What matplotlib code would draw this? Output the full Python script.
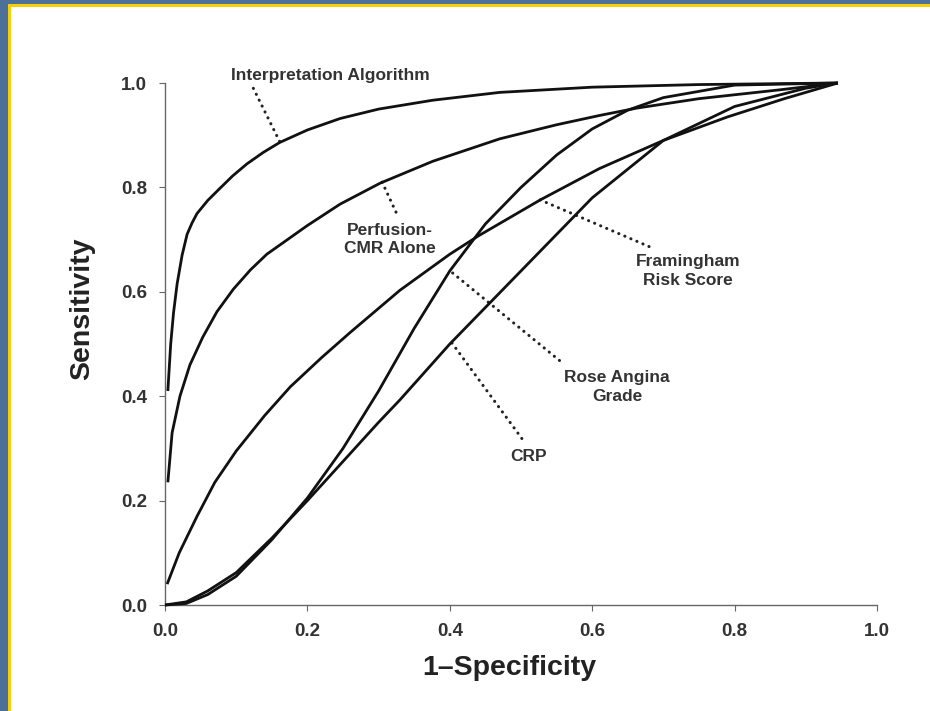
import matplotlib
matplotlib.use("Agg")
import matplotlib.pyplot as plt
from matplotlib.patches import Rectangle

plt.rcParams['font.family'] = ['Liberation Sans', 'DejaVu Sans']

# ROC curves: (1 - specificity, sensitivity)
interp_x = [0.004, 0.008, 0.012, 0.017, 0.024, 0.031, 0.038, 0.045, 0.06, 0.077, 0.095,
            0.115, 0.138, 0.161, 0.2, 0.246, 0.3, 0.376, 0.47, 0.6, 0.75, 0.945]
interp_y = [0.41, 0.50, 0.56, 0.615, 0.67, 0.71, 0.732, 0.75, 0.775, 0.798, 0.822,
            0.845, 0.867, 0.886, 0.91, 0.932, 0.95, 0.967, 0.982, 0.992, 0.997, 1.0]

perf_x = [0.004, 0.01, 0.021, 0.035, 0.053, 0.073, 0.096, 0.12, 0.143, 0.2, 0.246,
          0.302, 0.376, 0.47, 0.55, 0.611, 0.663, 0.75, 0.864, 0.945]
perf_y = [0.235, 0.33, 0.40, 0.46, 0.513, 0.562, 0.605, 0.642, 0.672, 0.727, 0.768,
          0.808, 0.850, 0.893, 0.92, 0.938, 0.952, 0.97, 0.987, 1.0]

fram_x = [0.003, 0.02, 0.045, 0.07, 0.1, 0.14, 0.176, 0.22, 0.26, 0.33, 0.40, 0.44,
          0.527, 0.61, 0.70, 0.79, 0.87, 0.945]
fram_y = [0.04, 0.10, 0.17, 0.235, 0.295, 0.363, 0.418, 0.474, 0.522, 0.603, 0.672, 0.707,
          0.776, 0.836, 0.89, 0.935, 0.97, 1.0]

rose_x = [0.0, 0.03, 0.06, 0.1, 0.15, 0.2, 0.25, 0.3, 0.35, 0.4, 0.45, 0.5,
          0.55, 0.6, 0.65, 0.7, 0.8, 0.945]
rose_y = [0.0, 0.003, 0.02, 0.055, 0.125, 0.205, 0.30, 0.41, 0.53, 0.64, 0.73, 0.80,
          0.862, 0.912, 0.948, 0.972, 0.996, 1.0]

crp_x = [0.0, 0.03, 0.06, 0.1, 0.15, 0.2, 0.25, 0.3, 0.33, 0.4, 0.5, 0.6, 0.7,
         0.8, 0.9, 0.945]
crp_y = [0.0, 0.006, 0.027, 0.062, 0.128, 0.20, 0.275, 0.35, 0.393, 0.50, 0.64, 0.78,
         0.89, 0.955, 0.99, 1.0]

curves = [
    (interp_x, interp_y),
    (perf_x, perf_y),
    (fram_x, fram_y),
    (rose_x, rose_y),
    (crp_x, crp_y),
]

# label text, text centre, leader start (on curve), leader end
labels = [
    ("Interpretation Algorithm", (0.232, 1.015), (0.161, 0.888), (0.124, 0.99)),
    ("Perfusion-\nCMR Alone", (0.316, 0.700), (0.305, 0.81), (0.327, 0.745)),
    ("Framingham\nRisk Score", (0.735, 0.640), (0.527, 0.776), (0.681, 0.686)),
    ("Rose Angina\nGrade", (0.635, 0.418), (0.404, 0.636), (0.558, 0.464)),
    ("CRP", (0.510, 0.284), (0.403, 0.502), (0.506, 0.31)),
]

ticks = [0.0, 0.2, 0.4, 0.6, 0.8, 1.0]

fig = plt.figure(figsize=(9.3, 7.11), dpi=100)
fig.patch.set_facecolor('white')

# blue textured frame on the top and left edges with a yellow rule
W, H = 930, 711
fig.patches.append(Rectangle((0, 0), 8 / W, 1, transform=fig.transFigure,
                             facecolor='#4d7099', edgecolor='none', zorder=0))
fig.patches.append(Rectangle((0, 1 - 4 / H), 1, 4 / H, transform=fig.transFigure,
                             facecolor='#4d7099', edgecolor='none', zorder=0))
fig.patches.append(Rectangle((8 / W, 0), 3 / W, 1 - 4 / H, transform=fig.transFigure,
                             facecolor='#f4d00c', edgecolor='none', zorder=1))
fig.patches.append(Rectangle((8 / W, 1 - 7 / H), 1 - 8 / W, 3 / H, transform=fig.transFigure,
                             facecolor='#f4d00c', edgecolor='none', zorder=1))

ax = fig.add_axes([165 / W, 1 - 605 / H, 712 / W, 522 / H])
ax.set_xlim(0, 1)
ax.set_ylim(0, 1)

for x, y in curves:
    ax.plot(x, y, color='#111111', lw=2.0, solid_capstyle='butt', solid_joinstyle='round',
            clip_on=False, zorder=3)

for text, (tx, ty), (sx, sy), (ex, ey) in labels:
    ax.plot([sx, ex], [sy, ey], color='#222222', lw=2.2, linestyle=(0, (0.05, 2.1)),
            dash_capstyle='round', clip_on=False, zorder=2)
    ax.text(tx, ty, text, ha='center', va='center', fontsize=12.5, fontweight='bold',
            color='#333333', linespacing=1.3)

for side in ('top', 'right'):
    ax.spines[side].set_visible(False)
for side in ('left', 'bottom'):
    ax.spines[side].set_color('#666666')
    ax.spines[side].set_linewidth(1.0)

ax.set_xticks(ticks)
ax.set_yticks(ticks)
ax.set_xticklabels([f"{t:.1f}" for t in ticks])
ax.set_yticklabels([f"{t:.1f}" for t in ticks])
ax.tick_params(direction='out', length=4, width=0.8, color='#666666',
               labelsize=13.5, labelcolor='#333333', pad=9)
for lab in ax.get_xticklabels() + ax.get_yticklabels():
    lab.set_fontweight('bold')

ax.set_xlabel("1\u2013Specificity", fontsize=20.5, fontweight='bold', color='#222222')
ax.xaxis.set_label_coords(0.483, -0.095)
ax.set_ylabel("Sensitivity", fontsize=20.5, fontweight='bold', color='#222222')
ax.yaxis.set_label_coords(-0.098, 0.567)

fig.savefig("out.png", dpi=100, facecolor=fig.get_facecolor())
